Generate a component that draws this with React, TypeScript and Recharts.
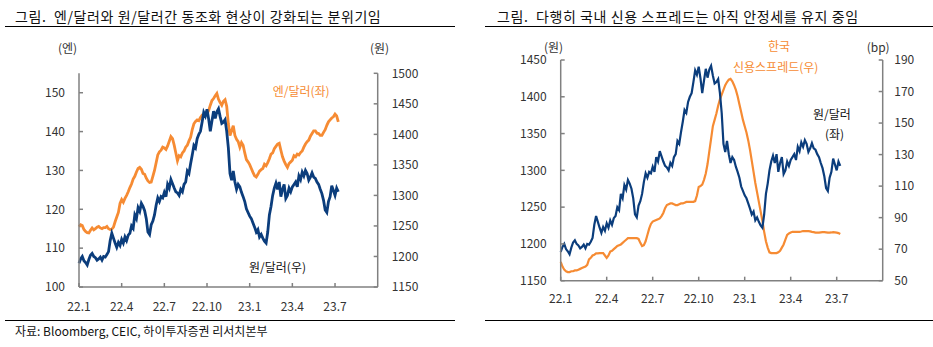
import { LineChart, Line, XAxis, YAxis } from 'recharts';

// half-week points, index 0 = first days of Jan 2022
const TICK_POS = [0, 26, 52, 78, 104, 130, 156];
const TICK_LABELS = ['22.1', '22.4', '22.7', '22.10', '23.1', '23.4', '23.7'];

const JPY_USD = [
  115.5, 116.0, 115.8, 114.8, 114.3, 114.0, 113.9, 114.6, 115.2, 114.7,
  115.0, 115.4, 115.6, 115.2, 115.0, 115.3, 115.3, 115.6, 115.0, 114.8,
  114.9, 115.4, 116.8, 118.0, 119.2, 121.5, 122.5, 121.8, 122.8, 123.6,
  124.5, 125.6, 126.5, 127.8, 128.5, 129.6, 130.5, 130.8, 130.3, 129.2,
  129.0, 128.0, 127.3, 126.9, 127.0, 128.5, 130.0, 132.0, 134.0, 134.8,
  135.2, 136.0, 135.8, 135.4, 136.3, 137.5, 138.7, 138.2, 136.5, 134.5,
  132.5, 133.8, 133.5, 134.5, 135.0, 136.0, 136.5, 137.6, 138.5, 140.5,
  142.0, 142.6, 143.0, 142.8, 143.6, 144.2, 144.0, 144.5, 144.5, 145.4,
  146.8, 148.0, 148.5, 149.2, 149.8, 148.3, 147.5, 146.8, 147.8, 148.2,
  146.5, 142.0, 139.0, 140.2, 141.5, 139.0, 138.0, 137.4, 136.0, 137.2,
  136.5, 134.5, 132.8, 132.2, 131.5, 130.5, 129.5, 128.6, 128.3, 129.0,
  129.8, 130.2, 130.5, 131.6, 131.2, 132.0, 133.0, 134.2, 134.5, 135.6,
  136.2, 136.8, 137.0, 135.2, 133.5, 132.4, 131.5, 130.8, 131.8, 132.2,
  132.6, 133.8, 133.5, 134.2, 134.0, 134.6, 135.0, 136.0, 136.8, 137.4,
  137.8, 138.8, 139.5, 140.2, 140.2, 139.6, 139.5, 139.0, 139.0, 139.8,
  140.5, 141.6, 142.5, 143.0, 143.5, 143.8, 144.5, 144.0, 142.5,
];

const KRW_USD = [
  1189, 1196, 1200, 1193, 1190, 1186, 1195, 1202, 1205, 1200,
  1198, 1194, 1196, 1199, 1194, 1200, 1199, 1203, 1208, 1226,
  1238, 1230, 1222, 1215, 1223, 1218, 1228, 1222, 1232, 1226,
  1235, 1238, 1250, 1246, 1268, 1262, 1280, 1274, 1287, 1282,
  1275, 1262, 1240, 1236, 1252, 1258, 1268, 1284, 1296, 1290,
  1298, 1296, 1305, 1298, 1318, 1312, 1326, 1319, 1312, 1306,
  1304, 1300, 1310, 1306, 1318, 1322, 1340, 1336, 1352, 1366,
  1382, 1378, 1393, 1400, 1405, 1420, 1436, 1430, 1441, 1425,
  1405, 1422, 1438, 1426, 1437, 1442, 1429, 1418, 1420, 1424,
  1405, 1378, 1336, 1325, 1340, 1322, 1310, 1318, 1314, 1305,
  1298, 1290, 1278, 1272, 1266, 1262, 1255, 1248, 1240, 1244,
  1232, 1236, 1230, 1225, 1222, 1240, 1268, 1282, 1300, 1312,
  1320, 1310, 1322, 1298, 1310, 1318, 1295, 1300, 1312, 1306,
  1314, 1318, 1322, 1314, 1332, 1326, 1338, 1332, 1341, 1336,
  1325, 1330, 1337, 1330, 1328, 1322, 1318, 1310, 1303, 1292,
  1276, 1272, 1290, 1298, 1316, 1308, 1300, 1312, 1306,
];

const KR_SPREAD = [
  62, 59, 57, 56, 55.5, 55.5, 56, 56, 56.5, 56.5,
  57, 57.5, 58, 58.5, 59, 60, 63.5, 64.5, 66, 66.5,
  67.3, 67.3, 67.5, 67.5, 67.5, 66, 64.5, 66, 68.5, 69,
  70, 71, 72, 72.5, 73, 74, 75, 76, 77, 77,
  77, 77, 77, 77, 76.5, 74, 72, 72.5, 75, 79,
  83, 86, 87.5, 88, 88.5, 89, 89.5, 91, 93, 96,
  98, 98.5, 99, 99, 98.5, 98, 98, 98.5, 99, 99,
  99.5, 100, 100, 100, 100, 100, 100.5, 104, 109.5, 110,
  111, 114, 118, 124, 132, 140, 148, 152, 156, 161,
  165, 168, 171, 174, 176, 177.5, 178, 176.5, 174, 171,
  167, 162, 157, 152, 148, 144, 139, 133, 126, 119,
  112, 106, 100, 94, 88, 81, 75, 71, 68, 67.5,
  67.5, 67.5, 67.5, 68, 69, 71, 73, 76, 79, 80,
  80.5, 81, 81, 81, 81, 81, 81.2, 81.5, 81.5, 81.5,
  81.5, 81.3, 81, 80.8, 80.5, 80.5, 80.5, 80.7, 80.8, 80.8,
  80.7, 80.5, 80.5, 80.6, 80.8, 80.7, 80.5, 80.2, 79.6,
];

const JPY_TICKS = [100, 110, 120, 130, 140, 150];
const KRW_TICKS_WIDE = [1150, 1200, 1250, 1300, 1350, 1400, 1450, 1500];
const KRW_TICKS = [1150, 1200, 1250, 1300, 1350, 1400, 1450];
const SPREAD_TICKS = [50, 70, 90, 110, 130, 150, 170, 190];

const ORANGE = '#F68B33';
const NAVY = '#0B3D7C';
const AXIS = '#808080';
const FONT = "'Noto Sans CJK KR', 'Noto Sans', sans-serif";

const rows = KRW_USD.map((krw, i) => ({ t: i, jpy: JPY_USD[i], krw, spread: KR_SPREAD[i] }));

const axisProps = {
  axisLine: { stroke: AXIS, strokeWidth: 1.5 },
  tickLine: { stroke: AXIS, strokeWidth: 1.5 },
  tickSize: -4,
  tick: { fill: '#333', fontSize: 12, fontFamily: FONT },
  interval: 0 as const,
};

const fmtMonth = (v: number) => TICK_LABELS[TICK_POS.indexOf(v)] ?? '';

function Txt({ x, y, color = '#111', size = 12, spacing = 0, children }: { x: number; y: number; color?: string; size?: number; spacing?: number; children: string }) {
  return (
    <div
      style={{
        position: 'absolute',
        left: x,
        top: y,
        transform: 'translateY(-50%)',
        whiteSpace: 'pre',
        lineHeight: 1,
        fontSize: size,
        letterSpacing: spacing,
        color,
      }}
    >
      {children}
    </div>
  );
}

function Rule({ x, y, w }: { x: number; y: number; w: number }) {
  return <div style={{ position: 'absolute', left: x, top: y, width: w, height: 1, background: '#000' }} />;
}

export default function App() {
  return (
    <div style={{ position: 'absolute', left: 0, top: 0, width: 933, height: 347, background: '#fff', fontFamily: FONT, overflow: 'hidden' }}>
      <div style={{ position: 'absolute', left: 0, top: 0 }}>
        <LineChart width={470} height={347} data={rows} margin={{ top: 73.3, right: 32.3, bottom: 30, left: 0 }}>
          <XAxis dataKey="t" type="number" domain={[0, 182]} ticks={TICK_POS} tickFormatter={fmtMonth} height={30} tickMargin={19.5} {...axisProps} />
          <YAxis yAxisId="l" orientation="left" domain={[100, 155]} ticks={JPY_TICKS} width={79} tickMargin={18} {...axisProps} />
          <YAxis yAxisId="r" orientation="right" domain={[1150, 1500]} ticks={KRW_TICKS_WIDE} width={60} tickMargin={18} {...axisProps} />
          <Line yAxisId="l" dataKey="jpy" type="linear" stroke={ORANGE} strokeWidth={2.8} dot={false} isAnimationActive={false} />
          <Line yAxisId="r" dataKey="krw" type="linear" stroke={NAVY} strokeWidth={2.8} dot={false} isAnimationActive={false} />
        </LineChart>
      </div>
      <div style={{ position: 'absolute', left: 470, top: 0 }}>
        <LineChart width={463} height={347} data={rows} margin={{ top: 60, right: 10.3, bottom: 36.3, left: 0 }}>
          <XAxis dataKey="t" type="number" domain={[0, 182]} ticks={TICK_POS} tickFormatter={fmtMonth} height={30} tickMargin={18} {...axisProps} />
          <YAxis yAxisId="l" orientation="left" domain={[1150, 1450]} ticks={KRW_TICKS} width={90.7} tickMargin={18} {...axisProps} />
          <YAxis yAxisId="r" orientation="right" domain={[50, 190]} ticks={SPREAD_TICKS} width={40} tickMargin={15.6} {...axisProps} />
          <Line yAxisId="r" dataKey="spread" type="linear" stroke={ORANGE} strokeWidth={2.2} dot={false} isAnimationActive={false} />
          <Line yAxisId="l" dataKey="krw" type="linear" stroke={NAVY} strokeWidth={2.2} dot={false} isAnimationActive={false} />
        </LineChart>
      </div>

      <Txt x={15} y={15.8} size={14} spacing={0.6}>그림.  엔/달러와 원/달러간 동조화 현상이 강화되는 분위기임</Txt>
      <Txt x={497} y={15.8} size={14} spacing={0.6}>그림.  다행히 국내 신용 스프레드는 아직 안정세를 유지 중임</Txt>
      <Rule x={5} y={26} w={450} />
      <Rule x={485} y={26} w={448} />
      <Rule x={5} y={320} w={450} />
      <Rule x={485} y={320} w={448} />
      <Txt x={15} y={331} size={12}>자료: Bloomberg, CEIC, 하이투자증권 리서치본부</Txt>

      <Txt x={58} y={48} color="#333">(엔)</Txt>
      <Txt x={370} y={48} color="#333">(원)</Txt>
      <Txt x={272.7} y={91} color={ORANGE}>엔/달러(좌)</Txt>
      <Txt x={249} y={266.5}>원/달러(우)</Txt>

      <Txt x={544} y={47} color="#333">(원)</Txt>
      <Txt x={866.7} y={47} color="#333">(bp)</Txt>
      <Txt x={768} y={46} color={ORANGE}>한국</Txt>
      <Txt x={733} y={66.5} color={ORANGE}>신용스프레드(우)</Txt>
      <Txt x={813} y={113.5}>원/달러</Txt>
      <Txt x={825} y={134}>(좌)</Txt>
    </div>
  );
}
